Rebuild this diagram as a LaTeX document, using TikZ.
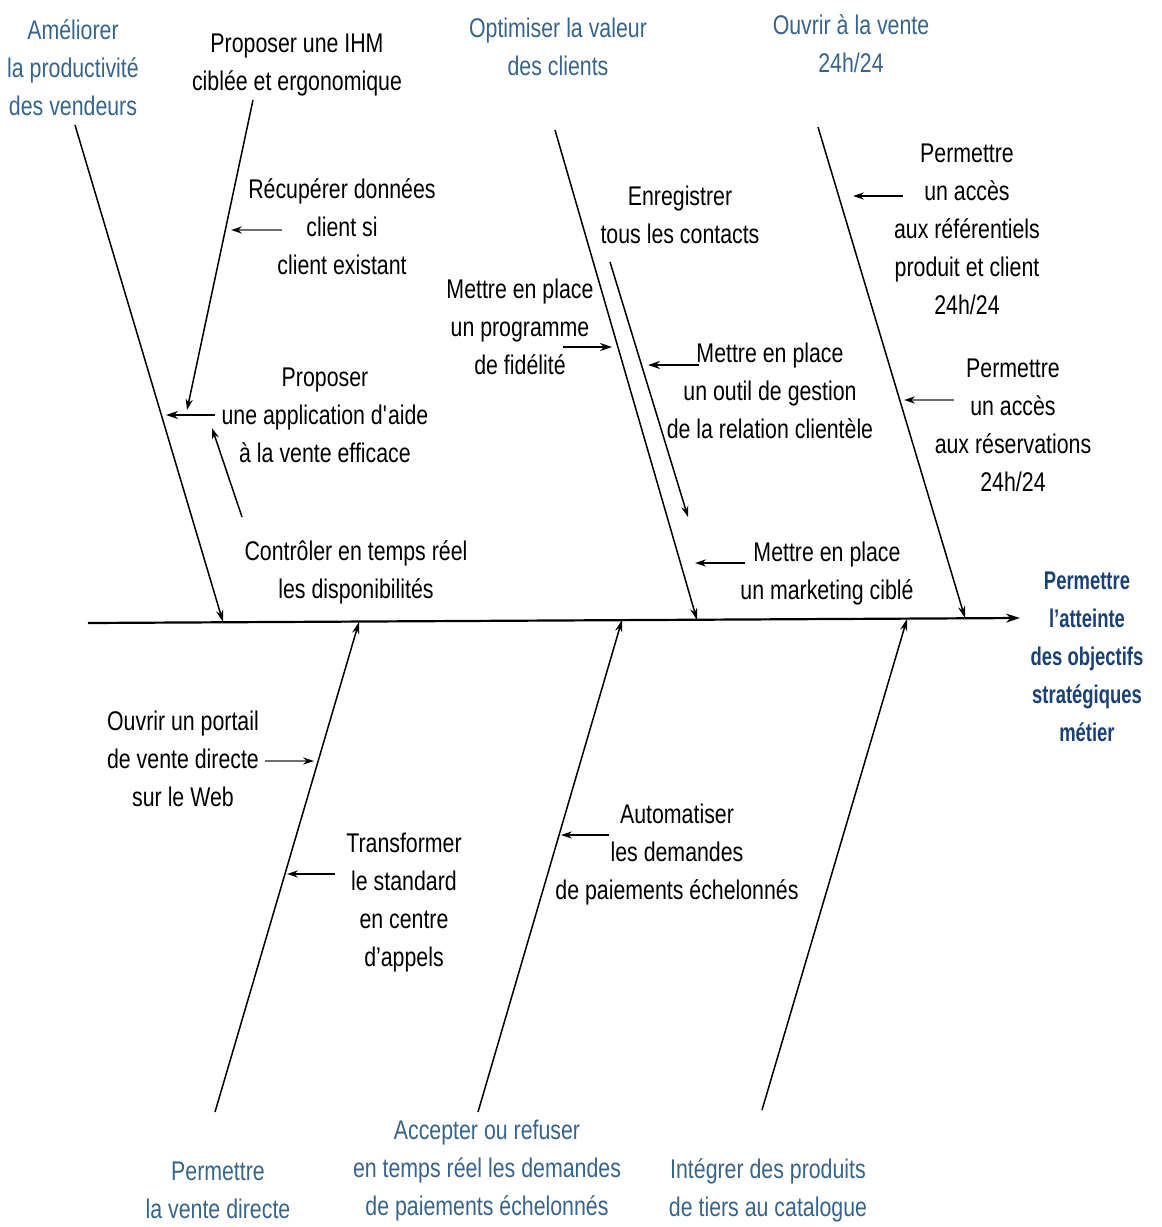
\documentclass[tikz,border=0pt]{standalone}
\usepackage{fontspec}
\setmainfont{Liberation Sans}[FakeStretch=0.79]
\newfontfamily\effont{Liberation Sans}[FakeStretch=0.72]
\usetikzlibrary{arrows.meta}
\definecolor{lblue}{RGB}{55,100,140}
\definecolor{dblue}{RGB}{25,65,115}
\definecolor{lgray}{RGB}{110,110,110}
\tikzset{
  lbl/.style={align=center, inner sep=0pt, font=\fontsize{13.5}{19}\selectfont},
  cat/.style={align=center, inner sep=0pt, text=lblue, font=\fontsize{13.5}{19}\selectfont},
  eff/.style={align=center, inner sep=0pt, text=dblue, font=\effont\fontsize{12.8}{19}\selectfont\bfseries},
  bone/.style={line width=0.75pt, -{Stealth[length=6pt,width=3.6pt]}},
  spine/.style={line width=1.1pt, -{Stealth[length=7pt,width=4.5pt]}},
  sub/.style={line width=0.75pt, -{Stealth[length=5.5pt,width=3.6pt]}},
  subthick/.style={line width=1.1pt, -{Stealth[length=6pt,width=4pt]}},
  subgray/.style={line width=0.75pt, draw=lgray, -{Stealth[length=5.5pt,width=3.6pt,color=black]}},
}
\begin{document}
\begin{tikzpicture}[x=0.5pt,y=-0.5pt]
\useasboundingbox (0,0) rectangle (1162,1227);

% ---- category labels (blue)
\node[cat] (L1) at (73,68) {Améliorer\\la productivité\\des vendeurs};
\node[cat] (L2) at (558,47) {Optimiser la valeur\\des clients};
\node[cat] (L3) at (851,44) {Ouvrir à la vente\\24h/24};
\node[cat] (L4) at (218,1190) {Permettre\\la vente directe};
\node[cat] (L5) at (487,1171) {Accepter ou refuser\\en temps réel les demandes\\de paiements échelonnés};
\node[cat] (L6) at (768,1190) {Intégrer des produits\\de tiers au catalogue};
\node[eff] (EF) at (1087,657) {Permettre\\l’atteinte\\des objectifs\\stratégiques\\métier};

% ---- cause labels (black)
\node[lbl] (a1) at (297,65) {Proposer une IHM\\ciblée et ergonomique};
\node[lbl] (a2) at (342,227) {Récupérer données\\client si\\client existant};
\node[lbl] (a3) at (325,415) {Proposer\\une application d\textquotesingle aide\\à la vente efficace};
\node[lbl] (a4) at (356,572) {Contrôler en temps réel\\les disponibilités};
\node[lbl] (b1) at (680,215) {Enregistrer\\tous les contacts};
\node[lbl] (b2) at (520,327) {Mettre en place\\un programme\\de fidélité};
\node[lbl] (b3) at (770,391) {Mettre en place\\un outil de gestion\\de la relation clientèle};
\node[lbl] (b4) at (827,574) {Mettre en place\\un marketing ciblé};
\node[lbl] (c1) at (967,229) {Permettre\\un accès\\aux référentiels\\produit et client\\24h/24};
\node[lbl] (c2) at (1013,425) {Permettre\\un accès\\aux réservations\\24h/24};
\node[lbl] (d1) at (183,759) {Ouvrir un portail\\de vente directe\\sur le Web};
\node[lbl] (d2) at (404,903) {Transformer\\le standard\\en centre\\d’appels};
\node[lbl] (e1) at (677,855) {Automatiser\\les demandes\\de paiements échelonnés};

% ---- coordinates
\coordinate (sp0) at (88,623);
\coordinate (sp1) at (1020,618);
\coordinate (B1s) at (75,125);  \coordinate (B1e) at (223,622);
\coordinate (B2s) at (555,130); \coordinate (B2e) at (697,620);
\coordinate (B3s) at (818,127); \coordinate (B3e) at (965,618);
\coordinate (B4s) at (215,1112); \coordinate (B4e) at (359,622);
\coordinate (B5s) at (478,1112); \coordinate (B5e) at (622,620);
\coordinate (B6s) at (762,1110); \coordinate (B6e) at (907,619);

\coordinate (ihm0) at (253,100); \coordinate (ihm1) at (187,410);
\coordinate (rec0) at (282,230); \coordinate (rec1) at (231,230);
\coordinate (app0) at (215,415); \coordinate (app1) at (166,415);
\coordinate (ctl0) at (242,517); \coordinate (ctl1) at (212,428);
\coordinate (enr0) at (610,262); \coordinate (enr1) at (688,517);
\coordinate (fid0) at (563,347); \coordinate (fid1) at (612,347);
\coordinate (out0) at (699,365); \coordinate (out1) at (648,365);
\coordinate (mkt0) at (745,563); \coordinate (mkt1) at (695,563);
\coordinate (ref0) at (903,196); \coordinate (ref1) at (853,196);
\coordinate (res0) at (954,400); \coordinate (res1) at (904,400);
\coordinate (web0) at (265,761); \coordinate (web1) at (314,761);
\coordinate (tra0) at (335,874); \coordinate (tra1) at (287,874);
\coordinate (aut0) at (609,835); \coordinate (aut1) at (561,835);

% ---- spine and bones
\draw[spine] (sp0) -- (sp1);
\draw[bone] (B1s) -- (B1e);
\draw[bone] (B2s) -- (B2e);
\draw[bone] (B3s) -- (B3e);
\draw[bone] (B4s) -- (B4e);
\draw[bone] (B5s) -- (B5e);
\draw[bone] (B6s) -- (B6e);

% ---- sub-causes
\draw[sub] (ihm0) -- (ihm1);
\draw[subgray] (rec0) -- (rec1);
\draw[subthick] (app0) -- (app1);
\draw[sub] (ctl0) -- (ctl1);
\draw[sub] (enr0) -- (enr1);
\draw[subthick] (fid0) -- (fid1);
\draw[subthick] (out0) -- (out1);
\draw[sub] (mkt0) -- (mkt1);
\draw[sub] (ref0) -- (ref1);
\draw[subgray] (res0) -- (res1);
\draw[subgray] (web0) -- (web1);
\draw[sub] (tra0) -- (tra1);
\draw[sub] (aut0) -- (aut1);
\end{tikzpicture}
\end{document}
